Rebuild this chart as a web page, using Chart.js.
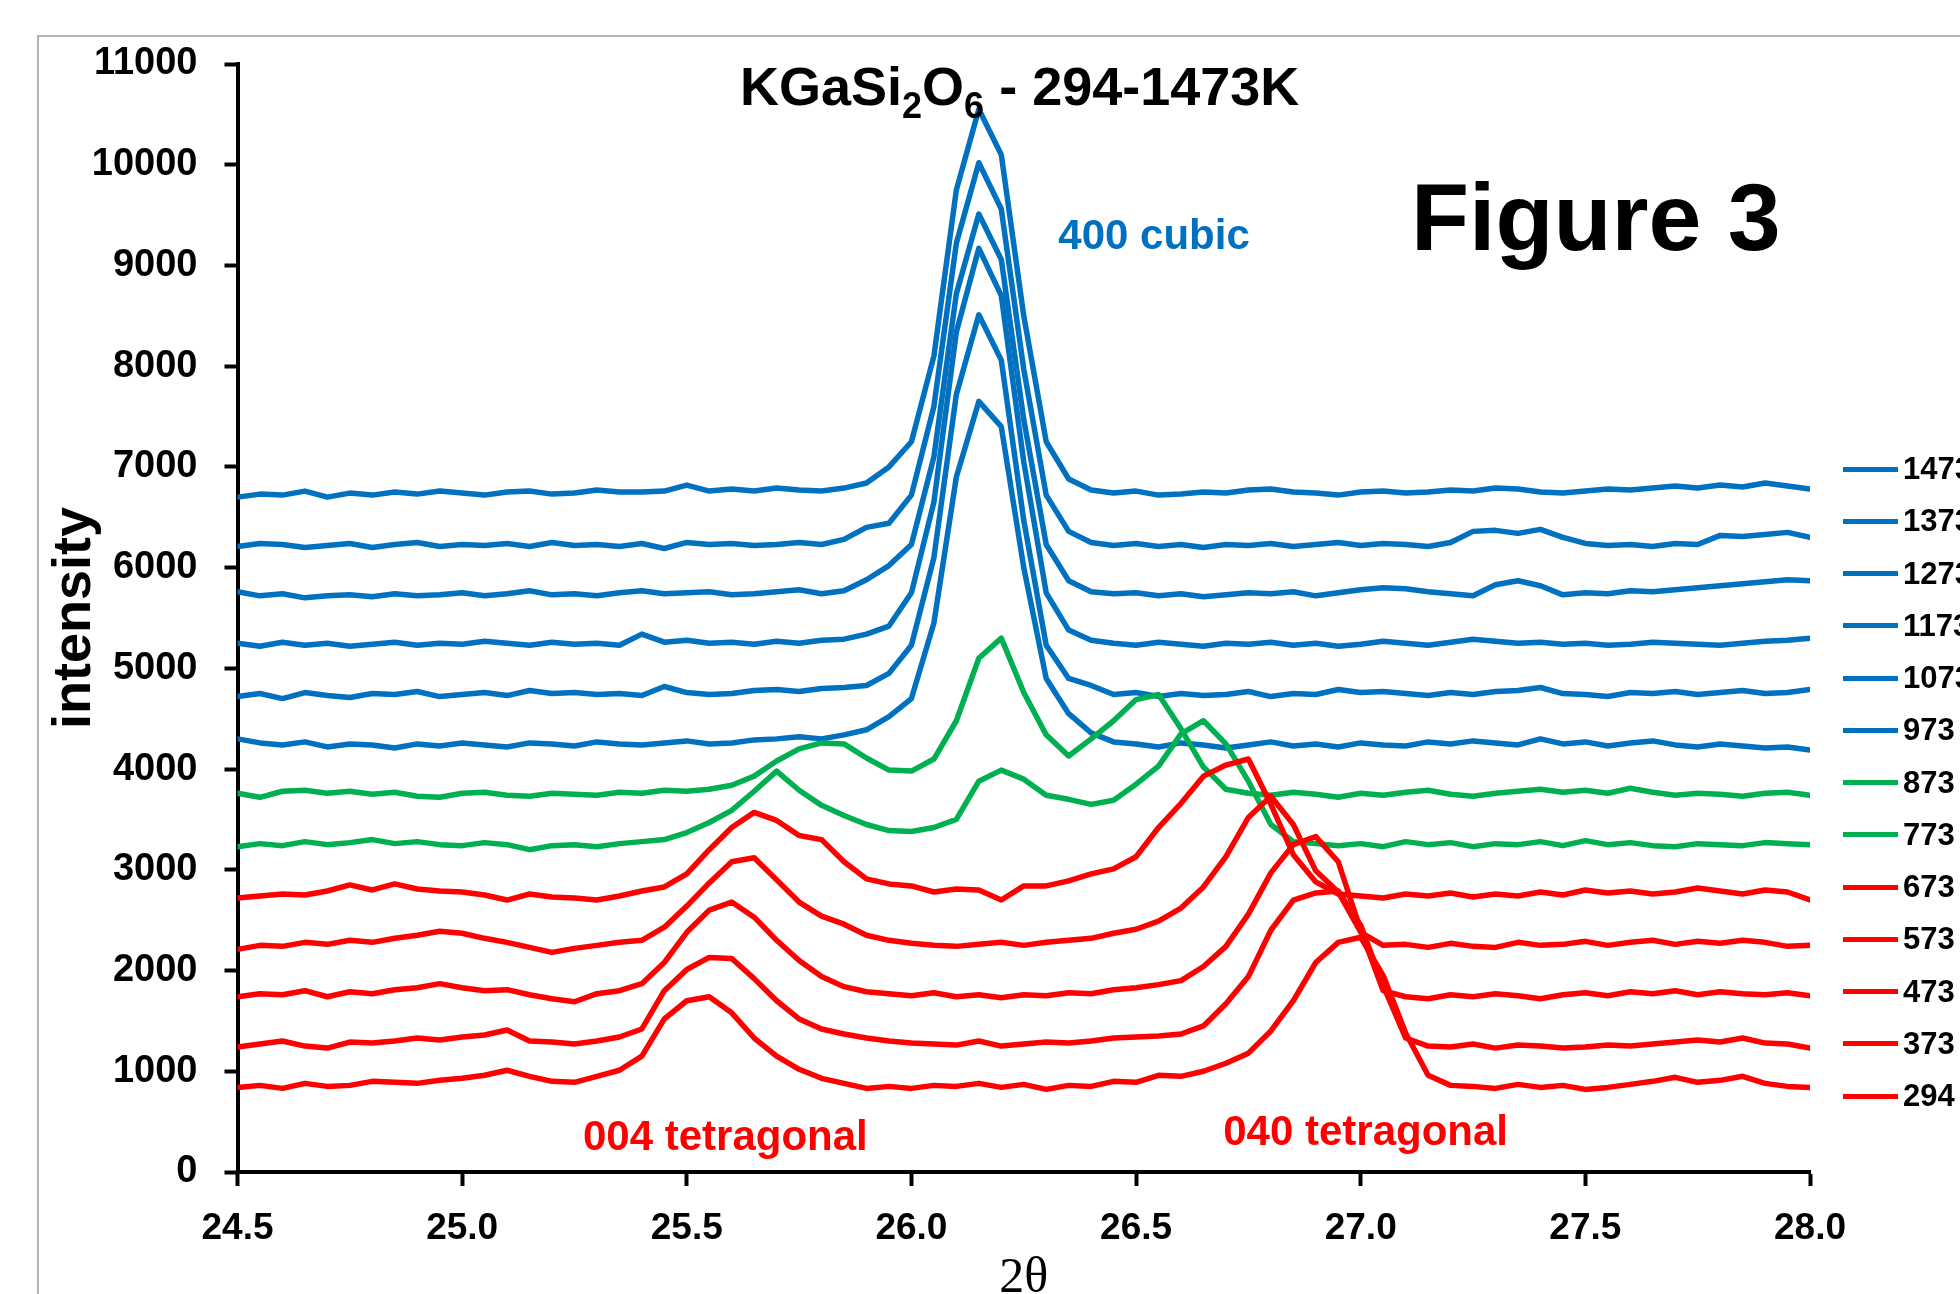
<!DOCTYPE html>
<html>
<head>
<meta charset="utf-8">
<title>KGaSi2O6 - 294-1473K</title>
<script src="https://cdn.jsdelivr.net/npm/chart.js@4.4.1/dist/chart.umd.min.js"></script>
<style>
  html, body { margin: 0; padding: 0; background: #fff; overflow: hidden; }
  #wrap { position: relative; width: 1960px; height: 1294px; overflow: hidden; }
  #frame { position: absolute; left: 37px; top: 35px; width: 2000px; height: 2000px; border: 2px solid #b4b4b4; }
  #chart { position: absolute; left: 0; top: 0; }
  .txt { position: absolute; font-family: "Liberation Sans", Arial, sans-serif; font-weight: bold; color: #000; white-space: nowrap; line-height: 1; }
  #mainTitle { left: 740px; top: 59px; font-size: 54px; }
  #mainTitle sub { font-size: 36px; vertical-align: -13px; line-height: 0; }
  #figLabel { left: 1411px; top: 170px; font-size: 95px; }
  .item { position: absolute; left: 1843px; height: 40px; display: flex; align-items: center;
          font-family: "Liberation Sans", Arial, sans-serif; font-weight: bold; font-size: 31px; color: #000; white-space: nowrap; }
  .item span.swatch { display: inline-block; width: 55px; height: 5px; margin-right: 5px; }
</style>
</head>
<body>
<div id="wrap">
  <div id="frame"></div>
  <canvas id="chart" width="2000" height="1340"></canvas>
  <div class="txt" id="mainTitle">KGaSi<sub>2</sub>O<sub>6</sub> - 294-1473K</div>
  <div class="txt" id="figLabel">Figure 3</div>
  <div id="legend"></div>
</div>
<script>
// 2theta grid, every 0.05 deg
const twoTheta = [
  24.50, 24.55, 24.60, 24.65, 24.70, 24.75, 24.80, 24.85, 24.90, 24.95,
  25.00, 25.05, 25.10, 25.15, 25.20, 25.25, 25.30, 25.35, 25.40, 25.45,
  25.50, 25.55, 25.60, 25.65, 25.70, 25.75, 25.80, 25.85, 25.90, 25.95,
  26.00, 26.05, 26.10, 26.15, 26.20, 26.25, 26.30, 26.35, 26.40, 26.45,
  26.50, 26.55, 26.60, 26.65, 26.70, 26.75, 26.80, 26.85, 26.90, 26.95,
  27.00, 27.05, 27.10, 27.15, 27.20, 27.25, 27.30, 27.35, 27.40, 27.45,
  27.50, 27.55, 27.60, 27.65, 27.70, 27.75, 27.80, 27.85, 27.90, 27.95,
  28.00
];

// intensities (stacked patterns), one array per temperature
const k294 = [
  840, 860, 830, 880, 850, 860, 900, 890, 880, 910,
  930, 960, 1010, 950, 900, 890, 950, 1010, 1150, 1520,
  1700, 1740, 1580, 1330, 1150, 1020, 930, 880, 830, 850,
  830, 860, 850, 880, 840, 870, 820, 860, 850, 900,
  890, 960, 950, 1000, 1080, 1180, 1400, 1700, 2080, 2280,
  2330, 1950, 1380, 960, 860, 850, 830, 870, 840, 860,
  820, 840, 870, 900, 940, 890, 910, 950, 880, 850,
  840
];
const k373 = [
  1240, 1270, 1300, 1250, 1230, 1290, 1280, 1300, 1330, 1310,
  1340, 1360, 1410, 1300, 1290, 1270, 1300, 1340, 1420, 1800,
  2010, 2130, 2120, 1920, 1700, 1520, 1420, 1370, 1330, 1300,
  1280, 1270, 1260, 1300, 1250, 1270, 1290, 1280, 1300, 1330,
  1340, 1350, 1370, 1450, 1670, 1940, 2400, 2700, 2770, 2790,
  2450, 1850, 1330, 1250, 1240, 1270, 1230, 1260, 1250, 1230,
  1240, 1260, 1250, 1270, 1290, 1310, 1290, 1330, 1280, 1270,
  1230
];
const k473 = [
  1740, 1770, 1760, 1800, 1740, 1790, 1770, 1810, 1830, 1870,
  1830, 1800, 1810, 1760, 1720, 1690, 1770, 1800, 1870, 2080,
  2380, 2600, 2680, 2530, 2300, 2100, 1940, 1840, 1790, 1770,
  1750, 1780, 1740, 1760, 1730, 1760, 1750, 1780, 1770, 1810,
  1830, 1860, 1900, 2040, 2240, 2560, 2970, 3250, 3330, 3080,
  2400, 1800, 1740, 1720, 1760, 1740, 1770, 1750, 1720, 1760,
  1780, 1750, 1790, 1770, 1800, 1760, 1790, 1770, 1760, 1780,
  1750
];
const k573 = [
  2210, 2250, 2240, 2280, 2260, 2300, 2280, 2320, 2350, 2390,
  2370, 2320, 2280, 2230, 2180, 2220, 2250, 2280, 2300, 2430,
  2640, 2870, 3080, 3120, 2900, 2680, 2540, 2460, 2350, 2300,
  2270, 2250, 2240, 2260, 2280, 2250, 2280, 2300, 2320, 2370,
  2410, 2490, 2620, 2830, 3130, 3520, 3730, 3450, 2990, 2780,
  2380, 2250, 2260, 2230, 2270, 2240, 2230, 2280, 2250, 2260,
  2290, 2250, 2280, 2300, 2260, 2290, 2270, 2300, 2280, 2240,
  2250
];
const k673 = [
  2720, 2740, 2760, 2750, 2790, 2850, 2800, 2860, 2810, 2790,
  2780, 2750, 2700, 2760, 2730, 2720, 2700, 2740, 2790, 2830,
  2960, 3200, 3420, 3570, 3490, 3340, 3300, 3080, 2910, 2860,
  2840, 2780, 2810, 2800, 2700, 2840, 2840, 2890, 2960, 3010,
  3130, 3420, 3660, 3930, 4040, 4100, 3650, 3150, 2880, 2760,
  2740, 2720, 2760, 2740, 2770, 2730, 2760, 2740, 2780, 2750,
  2800, 2770, 2790, 2760, 2780, 2820, 2790, 2760, 2800, 2780,
  2700
];
const k773 = [
  3230, 3260, 3240, 3280, 3250, 3270, 3300, 3260, 3280, 3250,
  3240, 3270, 3250, 3200, 3240, 3250, 3230, 3260, 3280, 3300,
  3370, 3470, 3590, 3780, 3980, 3790, 3640, 3540, 3450, 3390,
  3380, 3420, 3500, 3880, 3990, 3900, 3740, 3700, 3650, 3690,
  3850, 4030, 4350, 4480, 4250, 3880, 3450, 3280, 3260, 3240,
  3260, 3230, 3280, 3250, 3270, 3230, 3260, 3250, 3280, 3240,
  3290, 3250, 3270, 3240, 3230, 3260, 3250, 3240, 3270, 3260,
  3250
];
const k873 = [
  3760, 3720, 3780, 3790, 3760, 3780, 3750, 3770, 3730, 3720,
  3760, 3770, 3740, 3730, 3760, 3750, 3740, 3770, 3760, 3790,
  3780, 3800, 3840, 3930, 4080, 4200, 4260, 4250, 4110, 3990,
  3980, 4100, 4480, 5100, 5300, 4760, 4340, 4130, 4300, 4480,
  4690, 4740, 4400, 4020, 3800, 3760, 3740, 3770, 3750, 3720,
  3760, 3740, 3770, 3790, 3750, 3730, 3760, 3780, 3800, 3770,
  3790, 3760, 3810, 3770, 3740, 3760, 3750, 3730, 3760, 3770,
  3740
];
const k973 = [
  4300, 4260, 4240, 4270, 4220, 4250, 4240, 4210, 4250, 4230,
  4260, 4240, 4220, 4260, 4250, 4230, 4270, 4250, 4240, 4260,
  4280, 4250, 4260, 4290, 4300, 4320, 4300, 4340, 4390, 4520,
  4700, 5450, 6900, 7650, 7400, 6000, 4900, 4550, 4360, 4270,
  4250, 4220, 4260, 4240, 4210, 4240, 4270, 4230, 4250, 4220,
  4260, 4240, 4230, 4270, 4250, 4280, 4260, 4240, 4300, 4250,
  4270, 4230, 4260, 4280, 4240, 4220, 4250, 4230, 4210, 4220,
  4190
];
const k1073 = [
  4720, 4750, 4700, 4760, 4730, 4710, 4750, 4740, 4770, 4720,
  4740, 4760, 4730, 4780, 4750, 4760, 4740, 4750, 4730, 4820,
  4760, 4740, 4750, 4780, 4790, 4770, 4800, 4810, 4830, 4950,
  5230, 6100, 7720, 8510, 8060, 6470, 5230, 4900, 4830, 4740,
  4760, 4720, 4750, 4730, 4740, 4770, 4720, 4750, 4740, 4790,
  4760, 4770, 4750, 4730, 4760, 4740, 4770, 4780, 4810, 4750,
  4740, 4720, 4760, 4750, 4770, 4740, 4760, 4780, 4750, 4760,
  4790
];
const k1173 = [
  5250, 5220, 5260, 5230, 5250, 5220, 5240, 5260, 5230, 5250,
  5240, 5270, 5250, 5230, 5260, 5240, 5250, 5230, 5340, 5260,
  5280, 5250, 5260, 5240, 5270, 5250, 5280, 5290, 5340, 5420,
  5750, 6650, 8340, 9170, 8700, 7050, 5750, 5380, 5280, 5250,
  5230, 5260, 5240, 5220, 5250, 5240, 5260, 5230, 5250, 5220,
  5240, 5270, 5250, 5230, 5260, 5290, 5270, 5250, 5260, 5240,
  5250, 5230, 5240, 5260, 5250, 5240, 5230, 5250, 5270, 5280,
  5300
];
const k1273 = [
  5760, 5720, 5740, 5700, 5720, 5730, 5710, 5740, 5720, 5730,
  5750, 5720, 5740, 5770, 5730, 5740, 5720, 5750, 5770, 5740,
  5750, 5760, 5730, 5740, 5760, 5780, 5740, 5770, 5880, 6020,
  6230, 7100, 8720, 9510, 9060, 7470, 6230, 5870, 5760, 5740,
  5750, 5720, 5740, 5710, 5730, 5750, 5740, 5760, 5720, 5750,
  5780, 5800, 5790, 5760, 5740, 5720, 5830, 5870, 5820, 5730,
  5750, 5740, 5770, 5760, 5780, 5800, 5820, 5840, 5860, 5880,
  5870
];
const k1373 = [
  6210, 6240, 6230, 6200, 6220, 6240, 6200, 6230, 6250, 6210,
  6230, 6220, 6240, 6210, 6250, 6220, 6230, 6210, 6240, 6190,
  6250, 6230, 6240, 6220, 6230, 6250, 6230, 6280, 6400, 6440,
  6720, 7600, 9220, 10020, 9560, 7970, 6720, 6360, 6250, 6220,
  6240, 6210, 6230, 6200, 6230, 6220, 6240, 6210, 6230, 6250,
  6220, 6240, 6230, 6210, 6250, 6360, 6370, 6340, 6380, 6300,
  6240, 6220, 6230, 6210, 6240, 6230, 6320, 6310, 6330, 6350,
  6300
];
const k1473 = [
  6700, 6730, 6720, 6760, 6700, 6740, 6720, 6750, 6730, 6760,
  6740, 6720, 6750, 6760, 6730, 6740, 6770, 6750, 6750, 6760,
  6820, 6760, 6780, 6760, 6790, 6770, 6760, 6790, 6840, 7000,
  7250, 8100, 9750, 10550, 10100, 8500, 7250, 6880, 6770, 6740,
  6760, 6720, 6730, 6750, 6740, 6770, 6780, 6750, 6740, 6720,
  6750, 6760, 6740, 6750, 6770, 6760, 6790, 6780, 6750, 6740,
  6760, 6780, 6770, 6790, 6810, 6790, 6820, 6800, 6840, 6810,
  6780
];

const tempLabels = ["294", "373", "473", "573", "673", "773", "873", "973", "1073", "1173", "1273", "1373", "1473"];
const tempSeries = [k294, k373, k473, k573, k673, k773, k873, k973, k1073, k1173, k1273, k1373, k1473];
const yTicks = [0, 1000, 2000, 3000, 4000, 5000, 6000, 7000, 8000, 9000, 10000, 11000];
const xTicks = [24.5, 25.0, 25.5, 26.0, 26.5, 27.0, 27.5, 28.0];

const RED = "#FF0000", GREEN = "#00B050", BLUE = "#0070C0";
const seriesColor = (t) => (t < 750 ? RED : t < 950 ? GREEN : BLUE);

document.addEventListener("DOMContentLoaded", () => {
  const font = "'Liberation Sans', Arial, sans-serif";

  // dataset 0 is drawn on top in chart.js, so 294 goes first
  const datasets = tempSeries.map((vals, i) => ({
    label: tempLabels[i],
    data: twoTheta.map((x, j) => ({ x, y: vals[j] })),
    borderColor: seriesColor(Number(tempLabels[i])),
    backgroundColor: seriesColor(Number(tempLabels[i])),
    borderWidth: 5.5,
    pointRadius: 0,
    fill: false,
    tension: 0,
    borderJoinStyle: "round",
    borderCapStyle: "round"
  }));

  // peak labels, placed in data units
  const peakNotes = [
    { text: "400 cubic", x: 26.327, y: 9160, color: BLUE },
    { text: "004 tetragonal", x: 25.269, y: 218, color: RED },
    { text: "040 tetragonal", x: 26.694, y: 268, color: RED }
  ];

  const notesPlugin = {
    id: "peakNotes",
    afterDatasetsDraw(chart) {
      const { ctx, scales } = chart;
      ctx.save();
      ctx.font = "bold 42px " + font;
      ctx.textBaseline = "alphabetic";
      ctx.textAlign = "left";
      peakNotes.forEach(n => {
        ctx.fillStyle = n.color;
        ctx.fillText(n.text, scales.x.getPixelForValue(n.x), scales.y.getPixelForValue(n.y));
      });
      ctx.restore();
    }
  };

  new Chart(document.getElementById("chart").getContext("2d"), {
    type: "line",
    data: { datasets },
    options: {
      responsive: false,
      animation: false,
      devicePixelRatio: 1,
      layout: { padding: { left: 0, top: 64, right: 190, bottom: 0 } },
      plugins: {
        legend: { display: false },
        tooltip: { enabled: false },
        title: { display: false }
      },
      scales: {
        x: {
          type: "linear",
          min: xTicks[0],
          max: xTicks[xTicks.length - 1],
          afterFit: (s) => { s.height = 168; },
          afterBuildTicks: (s) => { s.ticks = xTicks.map(v => ({ value: v })); },
          ticks: {
            callback: (v) => Number(v).toFixed(1),
            color: "#000",
            font: { family: font, weight: "bold", size: 37 },
            padding: 21,
            maxRotation: 0,
            autoSkip: false
          },
          grid: { drawOnChartArea: false, drawTicks: true, tickLength: 14, tickWidth: 4, tickColor: "#000" },
          border: { display: true, color: "#000", width: 4 },
          title: {
            display: true,
            text: "2\u03B8",
            color: "#000",
            font: { family: "'Liberation Serif', 'Times New Roman', serif", size: 50 },
            padding: { top: 0, bottom: 31 }
          }
        },
        y: {
          min: yTicks[0],
          max: yTicks[yTicks.length - 1],
          afterFit: (s) => { s.width = 237.5; },
          afterBuildTicks: (s) => { s.ticks = yTicks.map(v => ({ value: v })); },
          ticks: {
            callback: (v) => String(v),
            color: "#000",
            font: { family: font, weight: "bold", size: 38 },
            padding: 27,
            autoSkip: false
          },
          grid: { drawOnChartArea: false, drawTicks: true, tickLength: 13, tickWidth: 4, tickColor: "#000" },
          border: { display: true, color: "#000", width: 4 },
          title: {
            display: true,
            text: "intensity",
            color: "#000",
            font: { family: font, weight: "bold", size: 54 },
            padding: { top: 43, bottom: 0 }
          }
        }
      }
    },
    plugins: [notesPlugin]
  });

  // legend, highest temperature on top like the original
  const legend = document.getElementById("legend");
  const legendTop = 469, legendStep = 52.25;
  tempLabels.slice().reverse().forEach((lab, k) => {
    const row = document.createElement("div");
    row.className = "item";
    row.style.top = (legendTop + k * legendStep - 20) + "px";
    row.innerHTML = `<span class="swatch" style="background:${seriesColor(Number(lab))}"></span>${lab}`;
    legend.appendChild(row);
  });
});
</script>
</body>
</html>
